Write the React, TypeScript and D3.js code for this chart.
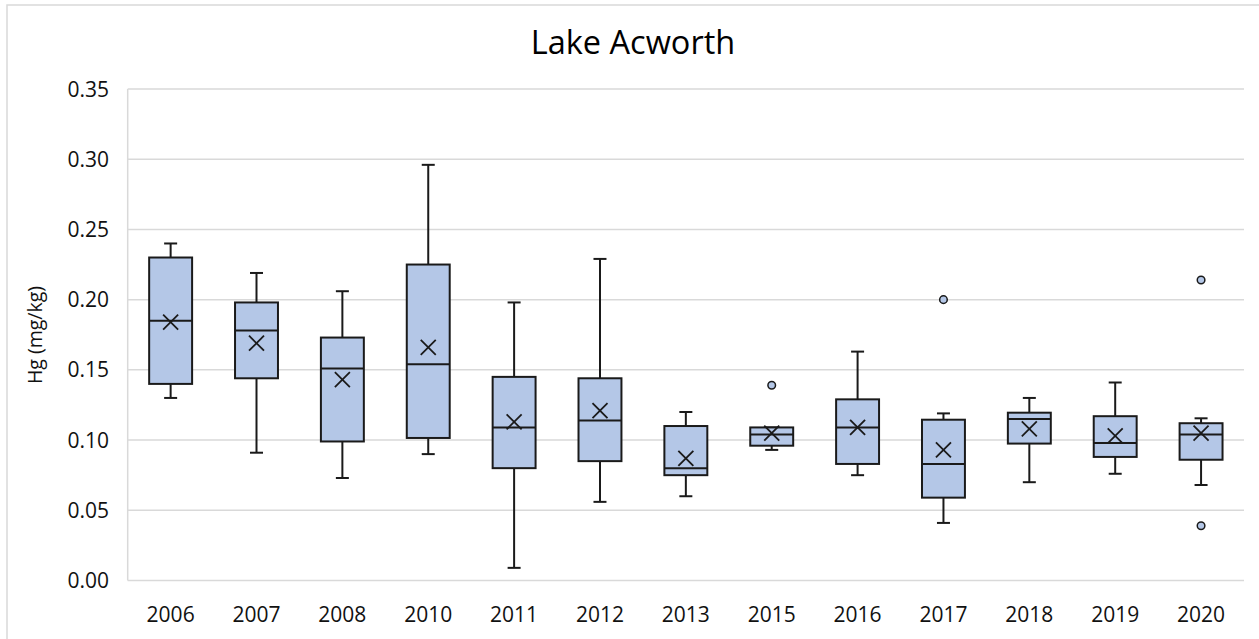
import React from "react";
import * as d3 from "d3";

const years = ["2006","2007","2008","2010","2011","2012","2013","2015","2016","2017","2018","2019","2020"];
const mins =    [0.130, 0.091, 0.073, 0.090, 0.009, 0.056, 0.060, 0.093, 0.075, 0.041, 0.070, 0.076, 0.068];
const q1s =     [0.140, 0.144, 0.099, 0.1015, 0.080, 0.085, 0.075, 0.096, 0.083, 0.059, 0.0975, 0.088, 0.086];
const medians = [0.185, 0.178, 0.151, 0.154, 0.109, 0.114, 0.080, 0.104, 0.109, 0.083, 0.115, 0.098, 0.104];
const q3s =     [0.230, 0.198, 0.173, 0.225, 0.145, 0.144, 0.110, 0.109, 0.129, 0.1145, 0.1195, 0.117, 0.112];
const maxs =    [0.240, 0.219, 0.206, 0.296, 0.198, 0.229, 0.120, 0.109, 0.163, 0.119, 0.130, 0.141, 0.1155];
const means =   [0.184, 0.169, 0.143, 0.166, 0.113, 0.121, 0.087, 0.105, 0.109, 0.093, 0.108, 0.103, 0.105];
const outlierYears = ["2015", "2017", "2020", "2020"];
const outlierValues = [0.139, 0.200, 0.214, 0.039];
const yTicks = [0, 0.05, 0.10, 0.15, 0.20, 0.25, 0.30, 0.35];

const W = 1259, H = 639;
const left = 127.7, right = 1244, top = 89, bottom = 580.5;
const FONT = "'Open Sans', sans-serif";
const FILL = "#b4c7e7";
const STROKE = "#1a1a1a";
const GRID = "#d9d9d9";

export default function App() {
  const x = d3.scaleBand<string>().domain(years).range([left, right]).padding(0);
  const y = d3.scaleLinear().domain([0, 0.35]).range([bottom, top]);
  const bw = x.bandwidth() * 0.5;
  const capW = 13;
  const xs = 7.5;

  return (
    <svg width={W} height={H} style={{ position: "absolute", left: 0, top: 0 }} fontFamily={FONT}>
      <rect x={0} y={0} width={W} height={H} fill="#fff" />
      <rect x={7} y={5} width={W + 10} height={H + 10} fill="none" stroke={GRID} strokeWidth={1.5} />
      <text x={633} y={53.5} textAnchor="middle" fontSize={32.5} fill="#000">Lake Acworth</text>

      {yTicks.map((t) => (
        <g key={t}>
          <line x1={left} x2={right} y1={y(t)} y2={y(t)} stroke={GRID} strokeWidth={1.5} />
          <text x={109} y={y(t)} dy="0.36em" textAnchor="end" fontSize={21} fill="#111">{t.toFixed(2)}</text>
        </g>
      ))}
      <line x1={left} x2={left} y1={top} y2={bottom} stroke={GRID} strokeWidth={1.5} />

      {years.map((yr) => (
        <text key={yr} x={(x(yr) ?? 0) + x.bandwidth() / 2} y={621.5} textAnchor="middle" fontSize={21} fill="#111">{yr}</text>
      ))}

      <text transform={`translate(42,335) rotate(-90)`} textAnchor="middle" fontSize={19.5} fill="#111">Hg (mg/kg)</text>

      {years.map((yr, i) => {
        const cx = (x(yr) ?? 0) + x.bandwidth() / 2;
        return (
          <g key={yr} stroke={STROKE} strokeWidth={2}>
            <line x1={cx} x2={cx} y1={y(maxs[i])} y2={y(q3s[i])} />
            <line x1={cx - capW / 2} x2={cx + capW / 2} y1={y(maxs[i])} y2={y(maxs[i])} />
            <line x1={cx} x2={cx} y1={y(q1s[i])} y2={y(mins[i])} />
            <line x1={cx - capW / 2} x2={cx + capW / 2} y1={y(mins[i])} y2={y(mins[i])} />
            <rect x={cx - bw / 2} y={y(q3s[i])} width={bw} height={y(q1s[i]) - y(q3s[i])} fill={FILL} />
            <line x1={cx - bw / 2} x2={cx + bw / 2} y1={y(medians[i])} y2={y(medians[i])} />
            <g strokeWidth={1.8}>
              <line x1={cx - xs} x2={cx + xs} y1={y(means[i]) - xs} y2={y(means[i]) + xs} />
              <line x1={cx - xs} x2={cx + xs} y1={y(means[i]) + xs} y2={y(means[i]) - xs} />
            </g>
          </g>
        );
      })}

      {outlierYears.map((yr, i) => (
        <circle key={i} cx={(x(yr) ?? 0) + x.bandwidth() / 2} cy={y(outlierValues[i])} r={3.8} fill={FILL} stroke={STROKE} strokeWidth={1.5} />
      ))}
    </svg>
  );
}
